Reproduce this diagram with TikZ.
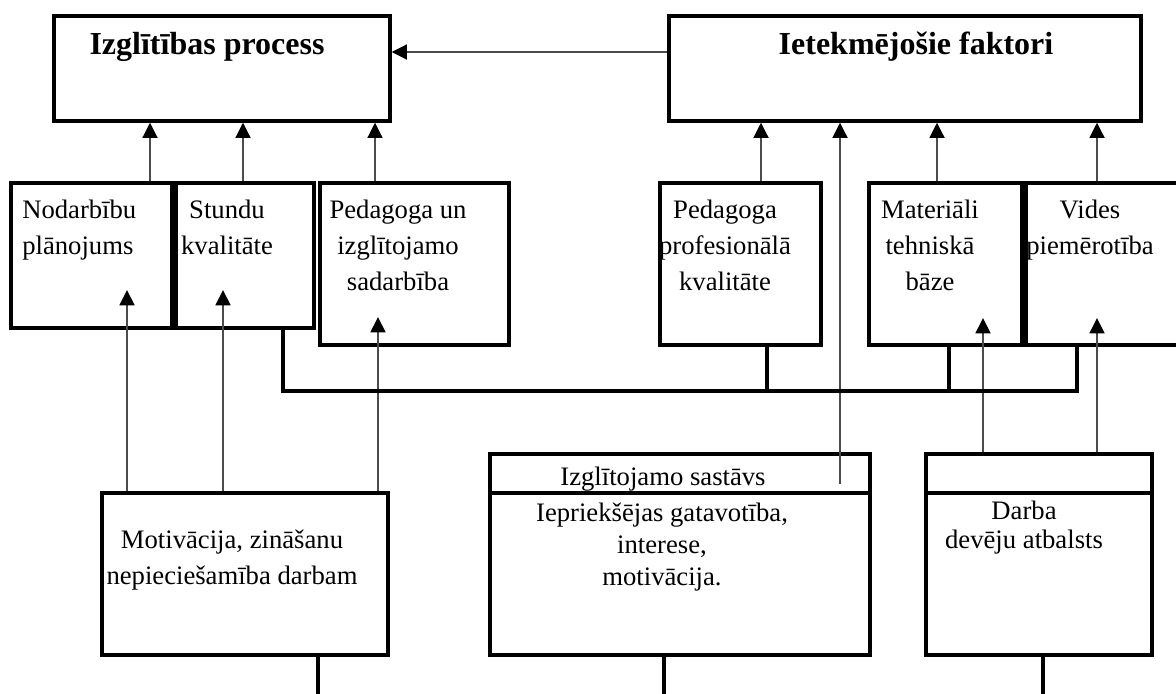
\documentclass[tikz,border=0pt]{standalone}
\usepackage{fontspec}
\setmainfont{Liberation Serif}
\usetikzlibrary{arrows.meta,fit}
\begin{document}
\begin{tikzpicture}[x=0.75pt,y=-0.75pt,
  box/.style={draw=black,line width=2.4pt,inner sep=0pt},
  link/.style={draw=black,line width=2.4pt},
  arr/.style={draw=black!70,line width=2.1pt,-{Triangle[length=11.5pt,width=11pt,color=black]}},
  txt/.style={font=\fontsize{20}{27}\selectfont,align=center,inner sep=0pt,anchor=north},
  ttl/.style={font=\fontsize{24}{29}\selectfont\bfseries,align=center,inner sep=0pt,anchor=north},
]
\clip (0,0) rectangle (1176,693);
\fill[white] (0,0) rectangle (1176,693);

% boxes
\node[box,fit={(54,16) (390,121)}] (P) {};
\node[box,fit={(669,16) (1141,121)}] (F) {};
\node[box,fit={(11,183) (172,328)}] (A) {};
\node[box,fit={(176,183) (314,328)}] (B) {};
\node[box,fit={(320,183) (509,345)}] (C) {};
\node[box,fit={(660,183) (821,345)}] (D) {};
\node[box,fit={(869,183) (1022,345)}] (E) {};
\node[box,fit={(1026,183) (1190,345)}] (G) {};
\node[box,fit={(102,493) (388,655)}] (M) {};
\node[box,fit={(490,454) (870,655)}] (S) {};
\node[box,fit={(926,454) (1152,655)}] (W) {};
\coordinate (dv) at (0,493);
\draw[link] (S.west |- dv) -- (S.east |- dv);
\draw[link] (W.west |- dv) -- (W.east |- dv);

% texts
\node[ttl] (Pt) at (207,30) {\rule{0pt}{18pt}Izglītības process};
\node[ttl] (Ft) at (916,30) {\rule{0pt}{18pt}Ietekmējošie faktori};
\node[txt,anchor=north west,align=left] (At) at (22,198) {\rule{0pt}{15pt}Nodarbību\\plānojums};
\node[txt] (Bt) at (227,198) {\rule{0pt}{15pt}Stundu\\kvalitāte};
\node[txt] (Ct) at (398,198) {\rule{0pt}{15pt}Pedagoga un\\izglītojamo\\sadarbība};
\node[txt] (Dt) at (725,198) {\rule{0pt}{15pt}Pedagoga\\profesionālā\\kvalitāte};
\node[txt] (Et) at (930,198) {\rule{0pt}{15pt}Materiāli\\tehniskā\\bāze};
\node[txt] (Gt) at (1090,198) {\rule{0pt}{15pt}Vides\\piemērotība};
\node[txt] (Mt) at (232,528) {\rule{0pt}{15pt}Motivācija, zināšanu\\nepieciešamība darbam};
\node[txt] (Sh) at (663,465) {\rule{0pt}{15pt}Izglītojamo sastāvs};
\node[txt,font=\fontsize{20}{24}\selectfont] (St) at (662,501) {\rule{0pt}{15pt}Iepriekšējas gatavotība,\\interese,\\motivācija.};
\node[txt,font=\fontsize{20}{22}\selectfont] (Wt) at (1024,499) {\rule{0pt}{15pt}Darba\\devēju atbalsts};

% horizontal arrow between top boxes
\coordinate (h1) at (0,52);
\draw[arr] (F.west |- h1) -- (P.east |- h1);

% arrows from second row to top boxes
\coordinate (xa) at (150,0);
\coordinate (xb) at (243,0);
\coordinate (xc) at (375,0);
\coordinate (xd) at (761,0);
\coordinate (xe) at (937,0);
\coordinate (xg) at (1097,0);
\draw[arr] (A.north -| xa) -- (P.south -| xa);
\draw[arr] (B.north -| xb) -- (P.south -| xb);
\draw[arr] (C.north -| xc) -- (P.south -| xc);
\draw[arr] (D.north -| xd) -- (F.south -| xd);
\draw[arr] (E.north -| xe) -- (F.south -| xe);
\draw[arr] (G.north -| xg) -- (F.south -| xg);
\coordinate (sS) at (840,484);
\draw[arr] (sS) -- (F.south -| sS);

% arrows from bottom boxes into second row
\coordinate (tA) at (127,290);
\coordinate (tB) at (223,290);
\coordinate (tC) at (378,317);
\coordinate (tE) at (983,318);
\coordinate (tG) at (1097,318);
\draw[arr] (M.north -| tA) -- (tA);
\draw[arr] (M.north -| tB) -- (tB);
\draw[arr] (M.north -| tC) -- (tC);
\draw[arr] (W.north -| tE) -- (tE);
\draw[arr] (W.north -| tG) -- (tG);

% connector line
\coordinate (hy) at (0,391);
\coordinate (cb) at (283,0);
\coordinate (cd) at (767,0);
\coordinate (ce) at (949,0);
\coordinate (cg) at (1077,0);
\draw[link] (B.south -| cb) -- (cb |- hy) -- (cg |- hy) -- (G.south -| cg);
\draw[link] (D.south -| cd) -- (cd |- hy);
\draw[link] (E.south -| ce) -- (ce |- hy);

% stubs below bottom boxes
\coordinate (bm) at (318,700);
\coordinate (bs) at (664,700);
\coordinate (bw) at (1043,700);
\draw[link] (M.south -| bm) -- (bm);
\draw[link] (S.south -| bs) -- (bs);
\draw[link] (W.south -| bw) -- (bw);
\end{tikzpicture}
\end{document}
